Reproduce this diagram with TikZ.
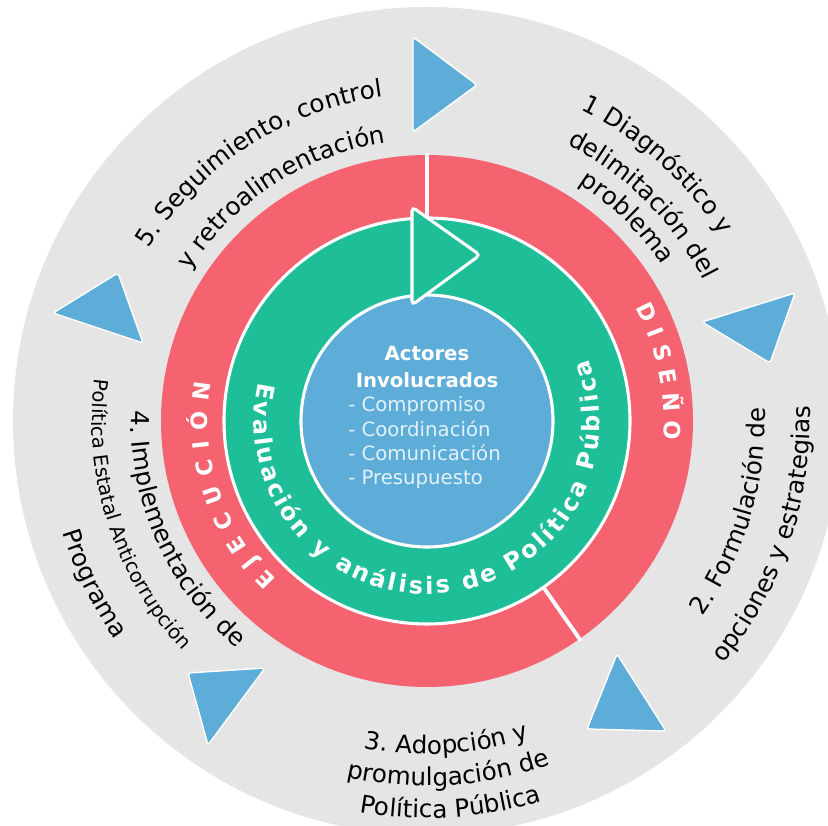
\documentclass[tikz,border=0pt]{standalone}
\usepackage{fontspec}
\setmainfont{DejaVu Sans}
\usetikzlibrary{decorations.text}

\definecolor{fondo}{RGB}{229,229,229}
\definecolor{rojo}{RGB}{245,98,112}
\definecolor{verde}{RGB}{30,190,152}
\definecolor{azul}{RGB}{93,173,216}
\definecolor{celeste}{RGB}{226,242,250}

\newcommand{\lblfont}{\fontsize{17.5}{21}\selectfont}
\newcommand{\chicafont}{\fontsize{14}{17}\selectfont}
\newcommand{\anillofont}{\fontsize{16}{19}\selectfont\bfseries}
\newcommand{\evalfont}{\fontsize{17}{20}\selectfont\bfseries}

\begin{document}
\begin{tikzpicture}[x=0.025cm, y=0.025cm]

\tikzset{flecha/.style = {fill=azul, draw=white, line width=1pt, rounded corners=2pt}}
\tikzset{rotulo/.style = {decorate, decoration={text along path, text align=center, text={|\lblfont|#1}}}}
\tikzset{rotulochico/.style = {decorate, decoration={text along path, text align=center, text={|\chicafont|#1}}}}
\tikzset{anillo/.style = {decorate, decoration={text along path, text align={fit to path}, text color=white, text={|\anillofont|#1}}}}
\tikzset{evalua/.style = {decorate, decoration={text along path, text align={fit to path}, text color=white, text={|\evalfont|#1}}}}
\tikzset{titulo/.style = {text=white, font=\fontsize{14}{19}\selectfont\bfseries, align=center, inner sep=0pt}}
\tikzset{lista/.style = {text=celeste, font=\fontsize{14}{17.3}\selectfont, align=left, inner sep=0pt}}

\useasboundingbox (-427,-405) rectangle (401,421);

%circulos
\fill[fondo] (0,0) circle[radius=414];
\fill[rojo] (0,0) circle[radius=266];
\draw[white, line width=2.8pt] (90:200) -- (90:268);
\draw[white, line width=2.8pt] (-55:200) -- (-55:268);
\draw[fill=verde, draw=white, line width=2.2pt] (0,0) circle[radius=203];
\draw[fill=azul, draw=white, line width=2.2pt] (0,0) circle[radius=126];

%flecha verde
\draw[fill=verde, draw=white, line width=2.2pt, rounded corners=3pt] (-15,214) -- (-15,116) -- (53,166) -- cycle;

%flechas azules
\draw[flecha] (-14,384) -- (-14,289) -- (50,336) -- cycle;
\draw[flecha] (275,99) -- (368,128) -- (343,58) -- cycle;
\draw[flecha] (190,-233) -- (160,-308) -- (239,-310) -- cycle;
\draw[flecha] (-239,-252) -- (-162,-247) -- (-219,-324) -- cycle;
\draw[flecha] (-374,108) -- (-309,148) -- (-284,78) -- cycle;

%etapas
\path[rotulo={5. Seguimiento, control}] (163:327) arc[start angle=163, end angle=83, radius=327];
\path[rotulo={y retroalimentación}] (163:281) arc[start angle=163, end angle=83, radius=281];
\path[rotulo={1 Diagnóstico y}] (88:347) arc[start angle=88, end angle=8, radius=347];
\path[rotulo={delimitación del}] (85:310) arc[start angle=85, end angle=5, radius=310];
\path[rotulo={problema}] (85.5:282) arc[start angle=85.5, end angle=5.5, radius=282];
\path[rotulo={2. Formulación de}] (-56.5:338) arc[start angle=-56.5, end angle=23.5, radius=338];
\path[rotulo={opciones y estrategias}] (-58.5:383) arc[start angle=-58.5, end angle=21.5, radius=383];
\path[rotulo={3. Adopción y}] (-126.5:333) arc[start angle=-126.5, end angle=-46.5, radius=333];
\path[rotulo={promulgación de}] (-126.5:365) arc[start angle=-126.5, end angle=-46.5, radius=365];
\path[rotulo={Política Pública}] (-126.5:397) arc[start angle=-126.5, end angle=-46.5, radius=397];
\path[rotulo={4. Implementación de}] (164:296) arc[start angle=164, end angle=244, radius=296];
\path[rotulochico={Política Estatal Anticorrupción}] (158:335) arc[start angle=158, end angle=238, radius=335];
\path[rotulo={Programa}] (166:381) arc[start angle=166, end angle=246, radius=381];

%anillos
\path[anillo={DISEÑO}] (28.5:237) arc[start angle=28.5, end angle=-4.5, radius=237];
\path[anillo={EJECUCIÓN}] (226.5:219) arc[start angle=226.5, end angle=170, radius=219];
\path[evalua={Evaluación y análisis de Política Pública}] (167:173) arc[start angle=167, end angle=381, radius=173];

%centro
\node[titulo] (actores) at (0,54) {Actores\\Involucrados};
\node[lista, anchor=west] (tareas) at (-79,-22) {- Compromiso\\- Coordinación\\- Comunicación\\- Presupuesto};

\end{tikzpicture}
\end{document}
